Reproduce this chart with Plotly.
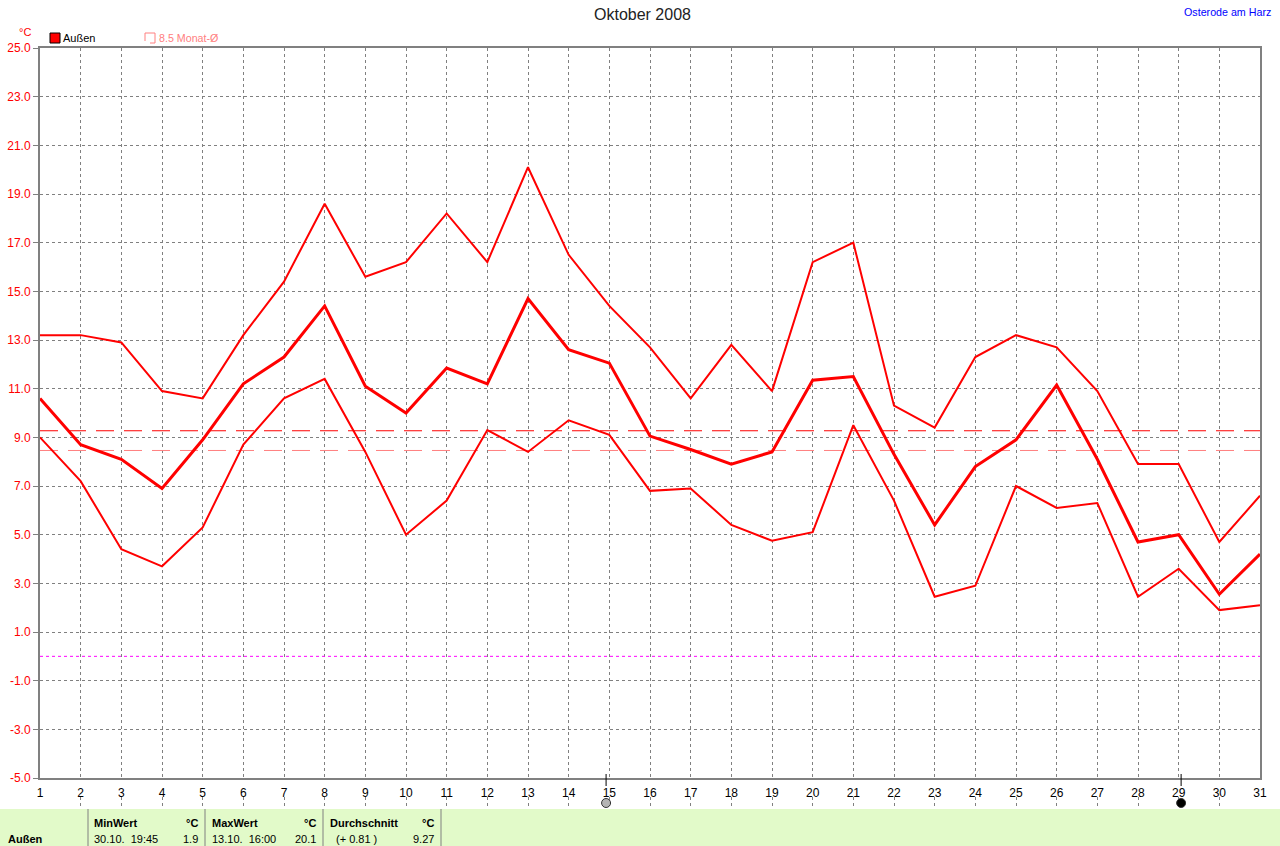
import plotly.graph_objects as go

days = list(range(1, 32))
temp_max = [13.2,13.2,12.9,10.9,10.6,13.2,15.4,18.6,15.6,16.2,18.2,16.2,20.1,16.5,14.4,12.7,10.6,12.8,10.9,16.2,17.0,10.3,9.4,12.3,13.2,12.7,10.9,7.9,7.9,4.7,6.6]
temp_avg = [10.6,8.7,8.1,6.9,8.9,11.2,12.3,14.4,11.1,10.0,11.85,11.2,14.7,12.6,12.05,9.05,8.5,7.9,8.4,11.35,11.5,8.3,5.4,7.8,8.9,11.15,8.1,4.7,5.0,2.55,4.2]
temp_min = [9.0,7.2,4.4,3.7,5.3,8.7,10.6,11.4,8.4,5.0,6.4,9.3,8.4,9.7,9.1,6.8,6.9,5.4,4.75,5.1,9.5,6.4,2.45,2.9,7.0,6.1,6.3,2.45,3.6,1.9,2.1]
month_mean = 9.27
long_term_mean = 8.46
frost_line = 0
y_ticks = [-5,-3,-1,1,3,5,7,9,11,13,15,17,19,21,23,25]
moon_days = [14.92, 29.06]
moon_colors = ["#b4b4b4", "#000000"]

W, H = 1280, 846
FONT = "Liberation Sans"
px = lambda v: v / W
py = lambda v: 1 - v / H

fig = go.Figure()
for level, color, dash in [(frost_line, "#ff00ff", "3px,3px"), (long_term_mean, "#ff8080", "18px,10px"), (month_mean, "#ff0000", "18px,10px")]:
    fig.add_trace(go.Scatter(x=[days[0], days[-1]], y=[level, level], mode="lines", line=dict(color=color, width=1, dash=dash), hoverinfo="skip"))
for values, width in [(temp_max, 2), (temp_min, 2), (temp_avg, 3)]:
    fig.add_trace(go.Scatter(x=days, y=values, mode="lines", line=dict(color="#ff0000", width=width), hoverinfo="skip"))
fig.add_trace(go.Scatter(x=moon_days, y=[0.5, 0.5], yaxis="y2", mode="markers", cliponaxis=False,
                         marker=dict(size=9, color=moon_colors, line=dict(color="#333333", width=1)), hoverinfo="skip"))

shapes = [
    dict(type="rect", xref="paper", yref="paper", x0=0, x1=1, y0=py(846), y1=py(809), fillcolor="#e2fac9", line_width=0, layer="below"),
    dict(type="rect", xref="paper", yref="paper", x0=px(50), x1=px(60), y0=py(43), y1=py(33), fillcolor="#ff0000", line=dict(color="#000000", width=1)),
]
for x0, y0, x1, y1 in [(145, 41, 145, 33), (145, 33, 155, 33), (155, 33, 155, 43), (155, 43, 150, 43)]:
    shapes.append(dict(type="line", xref="paper", yref="paper", x0=px(x0), x1=px(x1), y0=py(y0), y1=py(y1), line=dict(color="#ff8080", width=1)))
for xp in [88, 205, 323, 441]:
    shapes.append(dict(type="line", xref="paper", yref="paper", x0=px(xp), x1=px(xp), y0=py(846), y1=py(809), line=dict(color="#808080", width=1)))
for d in moon_days:
    shapes.append(dict(type="line", xref="x", yref="paper", x0=d, x1=d, y0=py(774), y1=py(786), line=dict(color="#000000", width=1)))

def note(x, y, text, color="#000000", size=11, anchor="left", bold=False):
    return dict(xref="paper", yref="paper", x=px(x), y=py(y), text=f"<b>{text}</b>" if bold else text, showarrow=False,
                xanchor=anchor, yanchor="middle", font=dict(family=FONT, size=size, color=color), borderpad=0, borderwidth=0)

annotations = [
    note(642, 15, "Oktober 2008", "#222222", 16, "center"),
    note(1271, 12, "Osterode am Harz", "#0000ff", 10.7, "right"),
    note(25, 32, "°C", "#ff0000", 11, "center"),
    note(63, 38, "Außen"),
    note(159, 38, "8.5 Monat-Ø", "#ff8080", 10.7),
    note(8, 839, "Außen", bold=True),
    note(94, 823, "MinWert", bold=True), note(198, 823, "°C", anchor="right", bold=True),
    note(94, 839, "30.10.  19:45"), note(198, 839, "1.9", anchor="right"),
    note(212, 823, "MaxWert", bold=True), note(316, 823, "°C", anchor="right", bold=True),
    note(212, 839, "13.10.  16:00"), note(316, 839, "20.1", anchor="right"),
    note(330, 823, "Durchschnitt", bold=True), note(434, 823, "°C", anchor="right", bold=True),
    note(336, 839, "(+ 0.81 )"), note(434, 839, "9.27", anchor="right"),
]

fig.update_layout(
    width=W, height=H, showlegend=False, paper_bgcolor="#ffffff", plot_bgcolor="#ffffff", autosize=False,
    margin=dict(l=0, r=0, t=0, b=0, pad=0), shapes=shapes, annotations=annotations, font=dict(family=FONT, size=12),
    xaxis=dict(domain=[px(40), px(1260)], range=[1, 31], automargin=False, tickmode="array", tickvals=days, ticktext=[str(d) for d in days],
               showgrid=True, gridcolor="#808080", griddash="3px,3px", gridwidth=1, zeroline=False,
               showline=True, mirror=True, linecolor="#808080", linewidth=2, ticks="outside", ticklen=3, tickwidth=1, tickcolor="rgba(0,0,0,0)",
               tickfont=dict(color="#000000", size=12, family=FONT)),
    yaxis=dict(domain=[py(778), py(48)], range=[-5, 25], automargin=False, tickmode="array", tickvals=y_ticks, ticktext=[f"{v:.1f}" for v in y_ticks],
               showgrid=True, gridcolor="#808080", griddash="3px,3px", gridwidth=1, zeroline=False,
               showline=True, mirror=True, linecolor="#808080", linewidth=2, ticks="outside", ticklen=5, tickcolor="#808080", tickwidth=1,
               tickfont=dict(color="#ff0000", size=12, family=FONT)),
    yaxis2=dict(domain=[py(809), py(797)], range=[0, 1], automargin=False, visible=False, anchor="x", fixedrange=True),
)
fig.write_html("out.html", post_script="document.body.style.margin='0';document.documentElement.style.overflow='hidden';",
               config=dict(displayModeBar=False, responsive=False))
